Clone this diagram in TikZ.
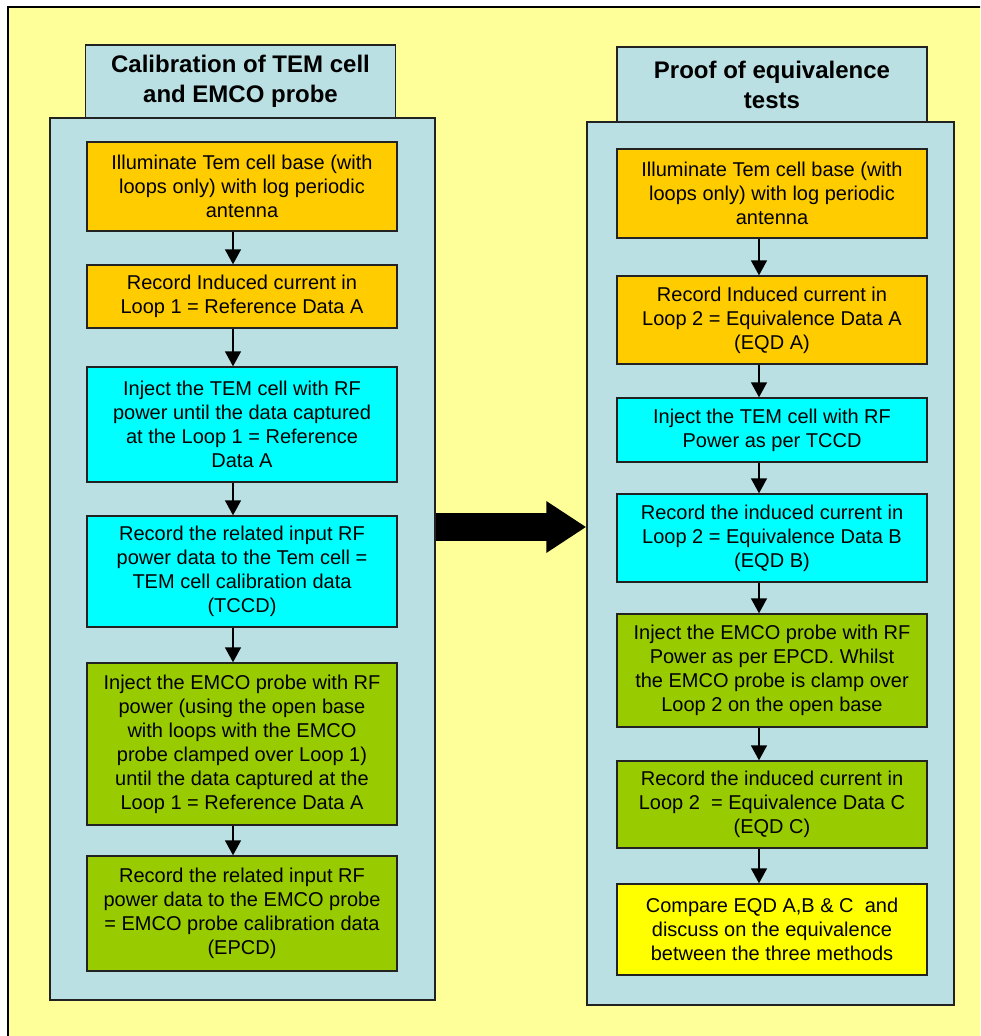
\documentclass[tikz,border=0pt]{standalone}
\usepackage{fontspec}
\setmainfont{Liberation Sans}
\usepackage{tikz}
\usetikzlibrary{positioning,arrows.meta}
\definecolor{bgyellow}{HTML}{FFFF99}
\definecolor{panel}{HTML}{BBE0E3}
\definecolor{orangebox}{HTML}{FFCC00}
\definecolor{cyanbox}{HTML}{00FFFF}
\definecolor{greenbox}{HTML}{99CC00}
\definecolor{yellowbox}{HTML}{FFFF00}
\definecolor{edge}{HTML}{222222}

\begin{document}
\begin{tikzpicture}[x=1pt,y=-1pt,
  box/.style={draw=edge,line width=1.4pt,minimum width=310pt,inner sep=0pt,align=center,
    font=\fontsize{20}{24}\selectfont},
  title/.style={draw=edge,line width=1.4pt,fill=panel,minimum width=310pt,inner sep=0pt,align=center,
    font=\fontsize{24}{30}\selectfont\bfseries},
  panelbox/.style={draw=edge,line width=1.4pt,fill=panel,inner sep=0pt},
  flow/.style={line width=1.5pt,-{Triangle[width=16pt,length=15pt]}},
  bigarrow/.style={line width=28pt,-{Triangle[width=49pt,length=40pt]}}]
\clip (0,0) rectangle (980,1036);
\fill[white] (0,0) rectangle (980,1036);
\draw[fill=bgyellow,line width=1.4pt] (8,7) rectangle (1000,1060);
% left column
\node[panelbox,minimum width=385pt,minimum height=882pt] (lpanel) at (242.5,559) {};
\node[title,minimum height=73pt] (ltitle) at (240.5,81.5) {Calibration of TEM cell\\and EMCO probe};
\node[box,fill=orangebox,minimum height=89pt] (l1) at (242,186.5) {Illuminate Tem cell base (with\\loops only) with log periodic\\antenna};
\node[box,fill=orangebox,minimum height=63pt] (l2) at (242,296.5) {Record Induced current in\\Loop 1 = Reference Data A};
\node[box,fill=cyanbox,minimum height=115pt] (l3) at (242,424.5) {Inject the TEM cell with RF\\power until the data captured\\at the Loop 1 = Reference\\Data A};
\node[box,fill=cyanbox,minimum height=111pt] (l4) at (242,571.5) {Record the related input RF\\power data to the Tem cell =\\TEM cell calibration data\\(TCCD)};
\node[box,fill=greenbox,minimum height=162pt] (l5) at (242,744) {Inject the EMCO probe with RF\\power (using the open base\\with loops with the EMCO\\probe clamped over Loop 1)\\until the data captured at the\\Loop 1 = Reference Data A};
\node[box,fill=greenbox,minimum height=115pt] (l6) at (242,913.5) {Record the related input RF\\power data to the EMCO probe\\= EMCO probe calibration data\\(EPCD)};
% right column
\node[panelbox,minimum width=367pt,minimum height=883pt] (rpanel) at (770.5,563.5) {};
\node[title,minimum height=75pt] (rtitle) at (772,84.5) {Proof of equivalence\\tests};
\node[box,fill=orangebox,minimum height=89pt] (r1) at (772,193.5) {Illuminate Tem cell base (with\\loops only) with log periodic\\antenna};
\node[box,fill=orangebox,minimum height=88pt] (r2) at (772,320) {Record Induced current in\\Loop 2 = Equivalence Data A\\(EQD A)};
\node[box,fill=cyanbox,minimum height=64pt] (r3) at (772,430) {Inject the TEM cell with RF\\Power as per TCCD};
\node[box,fill=cyanbox,minimum height=88pt] (r4) at (772,538) {Record the induced current in\\Loop 2 = Equivalence Data B\\(EQD B)};
\node[box,fill=greenbox,minimum height=113pt] (r5) at (772,670.5) {Inject the EMCO probe with RF\\Power as per EPCD. Whilst\\the EMCO probe is clamp over\\Loop 2 on the open base};
\node[box,fill=greenbox,minimum height=87pt] (r6) at (772,804.5) {Record the induced current in\\Loop 2 \ = Equivalence Data C\\(EQD C)};
\node[box,fill=yellowbox,minimum height=91pt] (r7) at (772,929.5) {Compare EQD A,B \& C \ and\\discuss on the equivalence\\between the three methods};
%
\foreach \a/\b/\s in {l1/l2/-9,l2/l3/-9,l3/l4/-9,l4/l5/-9,l5/l6/-9,
  r1/r2/-13,r2/r3/-13,r3/r4/-13,r4/r5/-13,r5/r6/-13,r6/r7/-13}
  \draw[flow] ([xshift=\s pt]\a.south) -- ([xshift=\s pt]\b.north);
\coordinate (mid) at (0,527);
\draw[bigarrow] (lpanel.east |- mid) -- (rpanel.west |- mid);
\end{tikzpicture}
\end{document}
